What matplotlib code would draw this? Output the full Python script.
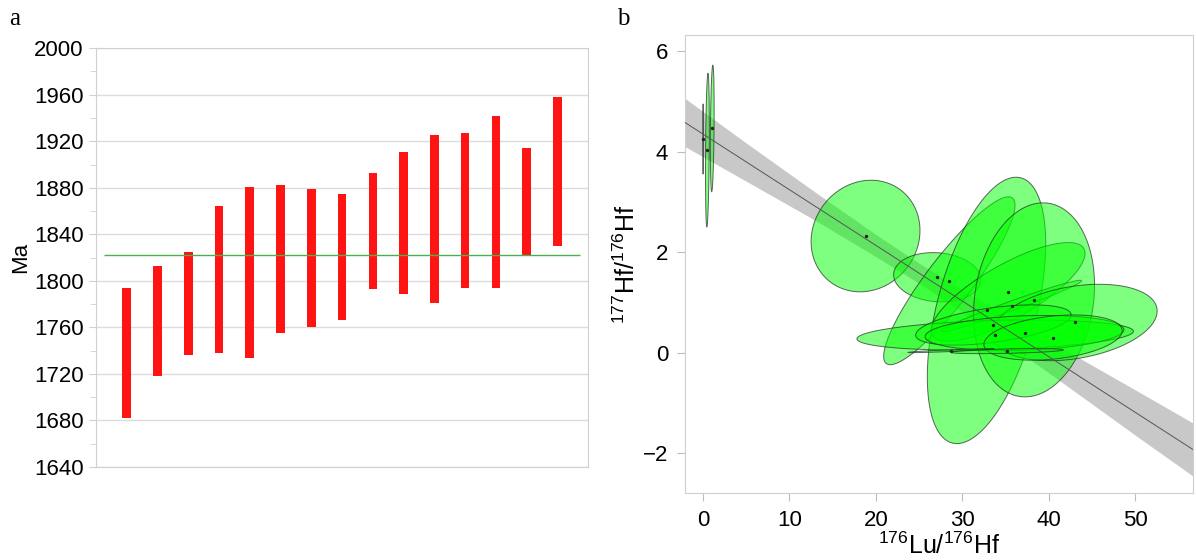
import numpy as np
import matplotlib
matplotlib.use("Agg")
import matplotlib.pyplot as plt
from matplotlib.ticker import MultipleLocator

plt.rcParams['font.family'] = ['Liberation Sans', 'DejaVu Sans']
plt.rcParams['mathtext.fontset'] = 'custom'
plt.rcParams['mathtext.rm'] = 'Liberation Sans'
plt.rcParams['mathtext.default'] = 'regular'

# ---- panel a: age ranges (Ma) ----
age_top = [1794, 1813, 1825, 1864, 1881, 1882, 1879, 1875, 1893, 1911, 1925, 1927, 1942, 1914, 1958]
age_bot = [1682, 1718, 1736, 1738, 1734, 1755, 1760, 1766, 1793, 1789, 1781, 1794, 1794, 1822, 1830]
mean_age = 1822

# ---- panel b: Lu-Hf error ellipses ----
ell_x   = [0.0, 0.5, 1.06, 18.8, 27.1, 28.5, 32.8, 35.3, 35.7, 38.3, 43.0, 33.8, 33.6, 37.2, 40.5, 28.7, 35.2]
ell_y   = [4.25, 4.03, 4.46, 2.32, 1.50, 1.43, 0.84, 1.21, 0.93, 1.05, 0.60, 0.35, 0.55, 0.39, 0.30, 0.04, 0.03]
ell_sx  = [0.03, 0.22, 0.22, 6.3, 5.05, 7.6, 6.85, 8.9, 8.1, 7.0, 9.55, 16.0, 9.0, 11.5, 8.0, 5.0, 6.5]
ell_sy  = [0.70, 1.53, 1.26, 1.11, 0.49, 1.67, 2.65, 0.98, 0.51, 1.93, 0.76, 0.30, 0.40, 0.35, 0.45, 0.04, 0.05]
ell_rho = [0.0, 0.3, 0.3, 0.1, -0.1, 0.9, 0.5, 0.78, 0.98, 0.15, 0.3, 0.25, 0.5, 0.2, 0.3, 0.9, 0.5]

iso_x = [-2.1, 56.9]
iso_y = [4.58, -1.95]
band_x  = [-2.1, 5, 13, 20, 25, 30, 40, 50, 56.9]
band_lo = [4.10, 3.41, 2.63, 1.91, 1.38, 0.81, -0.40, -1.64, -2.48]
band_hi = [5.06, 4.17, 3.19, 2.35, 1.78, 1.25, 0.24, -0.74, -1.42]

fig = plt.figure(figsize=(11.96, 5.6), dpi=100)

# ================= panel a =================
ax1 = fig.add_axes([0.0803, 0.166, 0.4114, 0.748])
pos = np.arange(1, len(age_top) + 1)
ax1.bar(pos, np.array(age_top) - np.array(age_bot), bottom=age_bot, width=0.28,
        color='#ff1414', zorder=3)
ax1.hlines(mean_age, 0.25, 15.75, color='#4caf50', linewidth=1.0, zorder=4)
ax1.set_xlim(0, 16)
ax1.set_ylim(1640, 2000)
ax1.yaxis.set_major_locator(MultipleLocator(40))
ax1.yaxis.set_minor_locator(MultipleLocator(20))
ax1.set_xticks([])
ax1.grid(axis='y', color='#dcdcdc', linewidth=1.0, zorder=0)
for s in ax1.spines.values():
    s.set_color('#d0d0d0')
ax1.tick_params(axis='y', which='major', length=5, color='#d0d0d0', labelsize=16, pad=4)
ax1.tick_params(axis='y', which='minor', length=4, color='#d0d0d0')
ax1.set_ylabel('Ma', fontsize=16, labelpad=2)
fig.text(0.008, 0.955, 'a', fontsize=18, family='Liberation Serif')

# ================= panel b =================
ax2 = fig.add_axes([0.5727, 0.119, 0.4248, 0.8185])
ax2.fill_between(band_x, band_lo, band_hi, color='#c8c8c8', linewidth=0, zorder=1)

t = np.linspace(0, 2 * np.pi, 200)
for cx, cy, sx, sy, r in zip(ell_x, ell_y, ell_sx, ell_sy, ell_rho):
    ex = cx + sx * np.cos(t)
    ey = cy + sy * (r * np.cos(t) + np.sqrt(1 - r ** 2) * np.sin(t))
    ax2.fill(ex, ey, facecolor=(0, 1, 0, 0.5), edgecolor=(0.15, 0.15, 0.15, 0.7),
             linewidth=0.7, zorder=2)
ax2.scatter(ell_x, ell_y, s=2, color='#222222', zorder=3)
ax2.plot(iso_x, iso_y, color='#555555', linewidth=0.7, zorder=4)

ax2.set_xlim(-2.1, 56.7)
ax2.set_ylim(-2.80, 6.32)
ax2.set_xticks([0, 10, 20, 30, 40, 50])
ax2.set_yticks([-2, 0, 2, 4, 6])
ax2.set_yticklabels(['\u22122', '0', '2', '4', '6'])
for s in ax2.spines.values():
    s.set_color('#cfcfcf')
ax2.tick_params(length=6, color='#bdbdbd', labelsize=16, pad=6)
ax2.set_xlabel('$^{176}$Lu/$^{176}$Hf', fontsize=18, labelpad=1)
ax2.set_ylabel('$^{177}$Hf/$^{176}$Hf', fontsize=18, labelpad=2)
fig.text(0.516, 0.955, 'b', fontsize=18, family='Liberation Serif')

fig.savefig('out.png', dpi=100)
